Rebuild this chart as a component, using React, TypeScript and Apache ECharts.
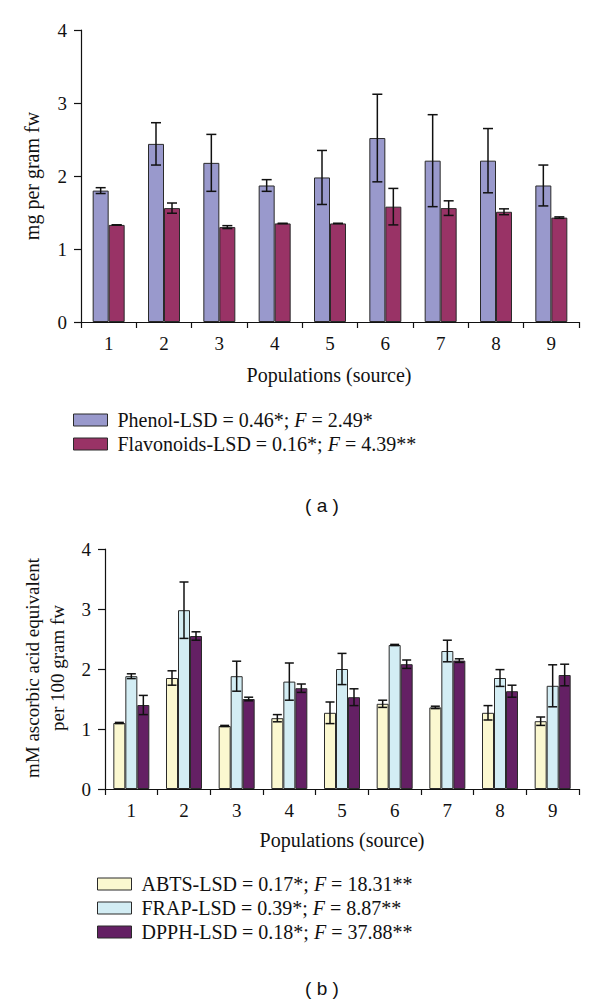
import React, { useEffect, useRef } from "react";
import * as echarts from "echarts";

const populations = ["1", "2", "3", "4", "5", "6", "7", "8", "9"];
const yTicksA = [0, 1, 2, 3, 4];

const phenol = [1.8, 2.44, 2.18, 1.87, 1.98, 2.52, 2.21, 2.21, 1.87];
const phenolErr = [0.04, 0.29, 0.39, 0.08, 0.37, 0.6, 0.63, 0.44, 0.28];
const flavonoids = [1.33, 1.56, 1.3, 1.35, 1.35, 1.58, 1.56, 1.51, 1.43];
const flavonoidsErr = [0, 0.07, 0.02, 0, 0, 0.25, 0.1, 0.04, 0.01];

const abts = [1.1, 1.85, 1.05, 1.18, 1.27, 1.42, 1.36, 1.27, 1.13];
const abtsErr = [0.01, 0.12, 0.01, 0.06, 0.18, 0.06, 0.02, 0.12, 0.07];
const frap = [1.88, 2.98, 1.88, 1.79, 2.0, 2.4, 2.3, 1.85, 1.72];
const frapErr = [0.04, 0.47, 0.25, 0.31, 0.26, 0.01, 0.18, 0.14, 0.35];
const dpph = [1.4, 2.55, 1.5, 1.68, 1.53, 2.08, 2.14, 1.63, 1.9];
const dpphErr = [0.16, 0.07, 0.03, 0.07, 0.14, 0.07, 0.03, 0.1, 0.18];

const legendA = ["Phenol", "Flavonoids"];
const legendALabels: Record<string, string[]> = {
  Phenol: ["Phenol-LSD = 0.46*; ", "F", " = 2.49*"],
  Flavonoids: ["Flavonoids-LSD = 0.16*; ", "F", " = 4.39**"],
};
const legendB = ["ABTS", "FRAP", "DPPH"];
const legendBLabels: Record<string, string[]> = {
  ABTS: ["ABTS-LSD = 0.17*; ", "F", " = 18.31**"],
  FRAP: ["FRAP-LSD = 0.39*; ", "F", " = 8.87**"],
  DPPH: ["DPPH-LSD = 0.18*; ", "F", " = 37.88**"],
};

const SERIF = "'Liberation Serif', 'DejaVu Serif', serif";
const SANS = "'Liberation Sans', 'DejaVu Sans', sans-serif";
const BORDER = "#2a2a2a";
const FS = 20;

function errData(vals: number[], errs: number[]) {
  return vals.map((v, i) => [i, v - errs[i], v + errs[i]]);
}

function errSeries(vals: number[], errs: number[], offset: number, axis: number, cap: number) {
  return {
    type: "custom",
    xAxisIndex: axis,
    yAxisIndex: axis,
    z: 10,
    silent: true,
    encode: { x: 0, y: [1, 2] },
    data: errData(vals, errs),
    renderItem: (params: any, api: any) => {
      const idx = api.value(0);
      const lo = api.coord([idx, api.value(1)]);
      const hi = api.coord([idx, api.value(2)]);
      const x = lo[0] + offset;
      const style = { stroke: "#111", lineWidth: 1.5 };
      return {
        type: "group",
        children: [
          { type: "line", shape: { x1: x, y1: lo[1], x2: x, y2: hi[1] }, style },
          { type: "line", shape: { x1: x - cap, y1: hi[1], x2: x + cap, y2: hi[1] }, style },
          { type: "line", shape: { x1: x - cap, y1: lo[1], x2: x + cap, y2: lo[1] }, style },
        ],
      };
    },
  };
}

function barSeries(name: string, data: number[], color: string, axis: number, width: number) {
  return {
    name,
    type: "bar",
    xAxisIndex: axis,
    yAxisIndex: axis,
    data,
    barWidth: width,
    barGap: "0%",
    itemStyle: { color, borderColor: BORDER, borderWidth: 1 },
  };
}

const axisLine = { show: true, lineStyle: { color: "#111", width: 1.2 } };

function xAxis(gridIndex: number) {
  return {
    type: "category",
    gridIndex,
    data: populations,
    boundaryGap: true,
    axisLine,
    axisTick: { show: true, length: 6, inside: false, lineStyle: { color: "#111", width: 1.2 } },
    axisLabel: { color: "#111", fontFamily: SERIF, fontSize: 19, margin: 12 },
  };
}

function yAxis(gridIndex: number) {
  return {
    type: "value",
    gridIndex,
    min: yTicksA[0],
    max: yTicksA[yTicksA.length - 1],
    interval: 1,
    splitLine: { show: false },
    axisLine,
    axisTick: { show: true, length: 7, lineStyle: { color: "#111", width: 1.2 } },
    axisLabel: { color: "#111", fontFamily: SERIF, fontSize: 19, margin: 14 },
  };
}

function legend(names: string[], labels: Record<string, string[]>, left: number, top: number) {
  return {
    data: names.map((n) => ({ name: n, icon: "rect" })),
    orient: "vertical",
    left,
    top,
    padding: 0,
    itemWidth: 34,
    itemHeight: 12,
    itemGap: 4,
    selectedMode: false,
    itemStyle: { borderColor: BORDER, borderWidth: 1 },
    textStyle: {
      color: "#111",
      fontFamily: SERIF,
      fontSize: FS,
      padding: [0, 0, 0, 5],
      rich: {
        n: { fontFamily: SERIF, fontSize: FS, color: "#111" },
        i: { fontFamily: SERIF, fontSize: FS, fontStyle: "italic", color: "#111" },
      },
    },
    formatter: (name: string) => {
      const p = labels[name];
      return `{n|${p[0]}}{i|${p[1]}}{n|${p[2]}}`;
    },
  };
}

function label(text: string, x: number, y: number, opts: any = {}) {
  return {
    type: "text",
    x,
    y,
    rotation: opts.rotation || 0,
    style: {
      text,
      fontFamily: opts.font || SERIF,
      fontSize: opts.size || FS,
      lineHeight: opts.lineHeight,
      fill: "#111",
      align: "center",
      verticalAlign: "middle",
    },
  };
}

export default function App() {
  const ref = useRef<HTMLDivElement>(null);
  useEffect(() => {
    if (!ref.current) return;
    const chart = echarts.init(ref.current, null, { renderer: "svg" });
    chart.setOption({
      animation: false,
      backgroundColor: "#ffffff",
      grid: [
        { left: 81, right: 21, top: 30, height: 292 },
        { left: 105, right: 21, top: 549, height: 240 },
      ],
      xAxis: [xAxis(0), xAxis(1)],
      yAxis: [yAxis(0), yAxis(1)],
      legend: [
        legend(legendA, legendALabels, 73, 410),
        legend(legendB, legendBLabels, 97, 874),
      ],
      series: [
        barSeries("Phenol", phenol, "#9999cc", 0, 16),
        barSeries("Flavonoids", flavonoids, "#993366", 0, 16),
        errSeries(phenol, phenolErr, -8, 0, 5),
        errSeries(flavonoids, flavonoidsErr, 8, 0, 5),
        barSeries("ABTS", abts, "#fbf8d0", 1, 12),
        barSeries("FRAP", frap, "#d3edf4", 1, 12),
        barSeries("DPPH", dpph, "#642064", 1, 12),
        errSeries(abts, abtsErr, -12, 1, 4.5),
        errSeries(frap, frapErr, 0, 1, 4.5),
        errSeries(dpph, dpphErr, 12, 1, 4.5),
      ],
      graphic: [
        label("mg per gram fw", 32, 176, { rotation: Math.PI / 2 }),
        label("Populations (source)", 329, 375),
        label("( a )", 322, 505, { font: SANS, size: 19 }),
        label("mM ascorbic acid equivalent\nper 100 gram fw", 45, 668, {
          rotation: Math.PI / 2,
          size: 19,
          lineHeight: 25,
        }),
        label("Populations (source)", 342, 840),
        label("( b )", 322, 988, { font: SANS, size: 19 }),
      ],
    });
    return () => chart.dispose();
  }, []);
  return (
    <div
      ref={ref}
      style={{ position: "absolute", left: 0, top: 0, width: 600, height: 1004 }}
    />
  );
}
